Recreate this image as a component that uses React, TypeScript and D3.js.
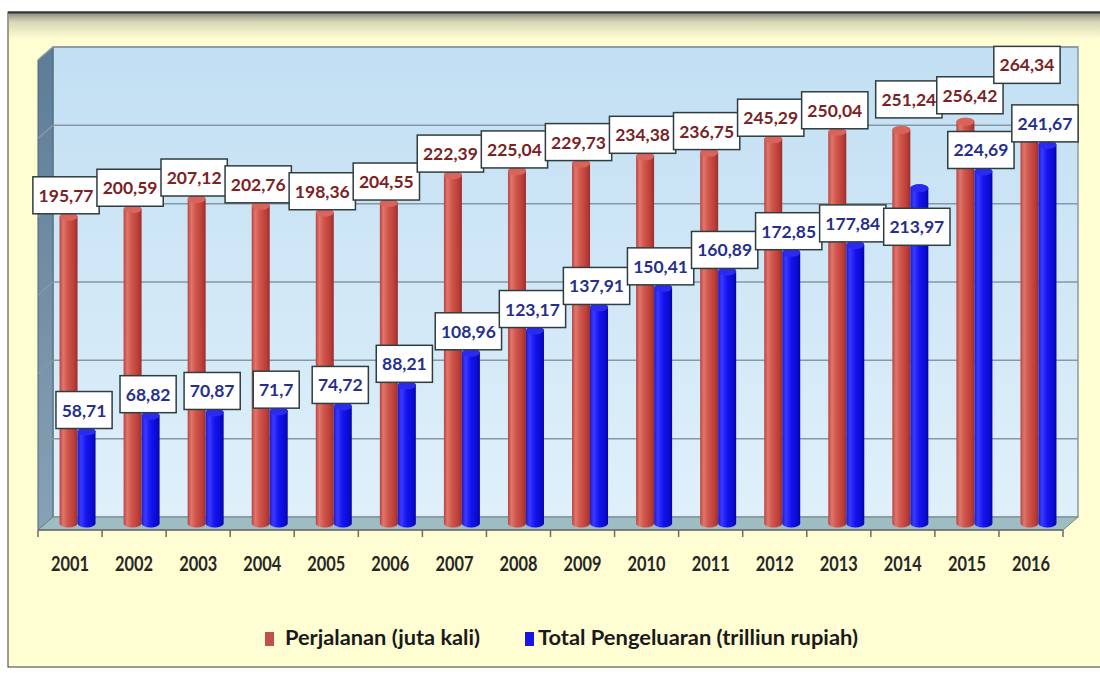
import React, { useEffect, useRef } from 'react';
import * as d3 from 'd3';

const years = ['2001', '2002', '2003', '2004', '2005', '2006', '2007', '2008', '2009', '2010', '2011', '2012', '2013', '2014', '2015', '2016'];
const perjalanan = [195.77, 200.59, 207.12, 202.76, 198.36, 204.55, 222.39, 225.04, 229.73, 234.38, 236.75, 245.29, 250.04, 251.24, 256.42, 264.34];
const pengeluaran = [58.71, 68.82, 70.87, 71.7, 74.72, 88.21, 108.96, 123.17, 137.91, 150.41, 160.89, 172.85, 177.84, 213.97, 224.69, 241.67];
const yTicks = [50, 100, 150, 200, 250, 300];
const seriesNames = ['Perjalanan (juta kali)', 'Total Pengeluaran (trilliun rupiah)'];

// a few labels were pushed around by excel to avoid collisions
const redNudge: Record<string, [number, number]> = { '2014': [10, -9], '2015': [7, -5], '2016': [0, -23] };
const blueNudge: Record<string, [number, number]> = { '2014': [0, 60] };

const W = 1100;
const H = 673;
const FONT = 'Lato, "Open Sans", sans-serif';

const fmt = (v: number) => String(v).replace('.', ',');

const App: React.FC = () => {
  const ref = useRef<SVGSVGElement>(null);

  useEffect(() => {
    if (!ref.current) return;
    const svg = d3.select(ref.current);
    svg.selectAll('*').remove();

    const front = { left: 38, right: 1063, bottom: 530 };
    const dx = 15, dy = 13;
    const wallTop = 47;

    const x = d3.scaleBand<string>().domain(years).range([front.left, front.right]);
    const y = d3.scaleLinear().domain([0, 300]).range([front.bottom - dy, wallTop]);

    const defs = svg.append('defs');
    const lin = (id: string, stops: [number, string][], vertical = false) => {
      const g = defs.append('linearGradient').attr('id', id)
        .attr('x1', 0).attr('y1', 0).attr('x2', vertical ? 0 : 1).attr('y2', vertical ? 1 : 0);
      stops.forEach(([o, c]) => g.append('stop').attr('offset', o).attr('stop-color', c));
    };
    lin('topShade', [[0, '#8e8e84'], [0.35, '#d8d8b8'], [1, '#fffdd2']], true);
    lin('wall', [[0, '#c2dff3'], [1, '#dff0fa']], true);
    lin('sideWall', [[0, '#5d7c96'], [1, '#87a2b6']], true);
    lin('redBar', [[0, '#b8443e'], [0.2, '#e0766c'], [0.45, '#d0554c'], [0.8, '#bb3f38'], [1, '#96302b']]);
    lin('blueBar', [[0, '#1a1ad0'], [0.2, '#3a3aff'], [0.5, '#1414ee'], [0.85, '#0a0ad0'], [1, '#0606a0']]);

    // page + frame
    svg.append('rect').attr('width', W).attr('height', H).attr('fill', '#ffffff');
    svg.append('rect').attr('x', 8).attr('y', 12).attr('width', W).attr('height', 655)
      .attr('fill', '#fffdd2').attr('stroke', '#3a3a3a').attr('stroke-width', 1);
    svg.append('rect').attr('x', 9).attr('y', 13).attr('width', W).attr('height', 26).attr('fill', 'url(#topShade)');
    svg.append('line').attr('x1', 8).attr('x2', W).attr('y1', 12.5).attr('y2', 12.5)
      .attr('stroke', '#333').attr('stroke-width', 2);

    const backL = front.left + dx, backR = front.right + dx, backB = y(0);

    // back wall
    svg.append('rect').attr('x', backL).attr('y', wallTop).attr('width', backR - backL).attr('height', backB - wallTop)
      .attr('fill', 'url(#wall)').attr('stroke', '#8a9aa6').attr('stroke-width', 1.5);
    // side wall
    svg.append('path')
      .attr('d', `M${front.left},${wallTop + dy} L${backL},${wallTop} L${backL},${backB} L${front.left},${front.bottom} Z`)
      .attr('fill', 'url(#sideWall)').attr('stroke', '#4f6577').attr('stroke-width', 1);
    // floor
    svg.append('path')
      .attr('d', `M${backL},${backB} L${backR},${backB} L${front.right},${front.bottom} L${front.left},${front.bottom} Z`)
      .attr('fill', '#9fbcc2').attr('stroke', '#6f8790').attr('stroke-width', 1);

    // gridlines
    const grid = svg.append('g').attr('stroke', '#8797a3').attr('stroke-width', 1.5).attr('fill', 'none');
    yTicks.forEach(t => {
      grid.append('line').attr('x1', backL).attr('x2', backR).attr('y1', y(t)).attr('y2', y(t));
      grid.append('line').attr('x1', front.left).attr('x2', backL).attr('y1', y(t) + dy).attr('y2', y(t));
    });

    // x axis ticks + labels
    const ax = svg.append('g');
    ax.append('line').attr('x1', front.left).attr('x2', front.right).attr('y1', front.bottom).attr('y2', front.bottom)
      .attr('stroke', '#6b6b6b').attr('stroke-width', 1.5);
    [...years.map(d => x(d)!), front.right].forEach(px => {
      ax.append('line').attr('x1', px).attr('x2', px).attr('y1', front.bottom).attr('y2', front.bottom + 7)
        .attr('stroke', '#6b6b6b').attr('stroke-width', 1.5);
    });
    years.forEach(d => {
      ax.append('text').attr('x', x(d)! + x.bandwidth() / 2).attr('y', 571)
        .attr('text-anchor', 'middle').attr('font-family', FONT).attr('font-weight', 700)
        .attr('font-size', 21).attr('fill', '#262626')
        .attr('textLength', 38).attr('lengthAdjust', 'spacingAndGlyphs')
        .text(d);
    });

    // cylinders
    const bw = 18, ry = 4;
    const barBase = y(0) + dy / 2;
    const mid = (d: string) => x(d)! + x.bandwidth() / 2 + dx / 2;
    const cyl = (cx: number, top: number, bot: number) => {
      const l = cx - bw / 2, r = cx + bw / 2;
      return `M${l},${top} L${l},${bot} A${bw / 2},${ry} 0 0 0 ${r},${bot} L${r},${top} A${bw / 2},${ry} 0 0 0 ${l},${top} Z`;
    };
    const bars = svg.append('g');
    years.forEach((d, i) => {
      const cr = mid(d) - bw / 2, cb = mid(d) + bw / 2;
      const tr = y(perjalanan[i]) + dy / 2, tb = y(pengeluaran[i]) + dy / 2;
      bars.append('path').attr('d', cyl(cr, tr, barBase)).attr('fill', 'url(#redBar)');
      bars.append('ellipse').attr('cx', cr).attr('cy', tr).attr('rx', bw / 2).attr('ry', ry).attr('fill', '#d9645b');
      bars.append('path').attr('d', cyl(cb, tb, barBase)).attr('fill', 'url(#blueBar)');
      bars.append('ellipse').attr('cx', cb).attr('cy', tb).attr('rx', bw / 2).attr('ry', ry).attr('fill', '#2a2af0');
    });

    // data labels
    const fs = 17.5;
    const textW = (s: string) => s.split('').reduce((w, c) => w + (c === ',' ? 0.26 : 0.58) * fs, 0);
    const labels = svg.append('g');
    const addLabel = (cx: number, bottom: number, txt: string, color: string) => {
      const g = labels.append('g');
      const boxH = 37;
      const bwid = textW(txt) + 11;
      g.append('rect').attr('x', cx - bwid / 2).attr('y', bottom - boxH).attr('width', bwid).attr('height', boxH)
        .attr('fill', '#ffffff').attr('stroke', '#2f3d40').attr('stroke-width', 1.5);
      g.append('text').attr('x', cx).attr('y', bottom - boxH / 2 + 6.5)
        .attr('text-anchor', 'middle').attr('font-family', FONT).attr('font-weight', 700)
        .attr('font-size', fs).attr('fill', color).text(txt);
    };
    years.forEach((d, i) => {
      const n = redNudge[d] || [0, 0];
      addLabel(mid(d) - bw / 2 - 2.5 + n[0], y(perjalanan[i]) + dy / 2 - 3 + n[1], fmt(perjalanan[i]), '#7a2224');
    });
    years.forEach((d, i) => {
      const n = blueNudge[d] || [0, 0];
      addLabel(mid(d) + bw / 2 - 2.5 + n[0], y(pengeluaran[i]) + dy / 2 - 3 + n[1], fmt(pengeluaran[i]), '#26308c');
    });

    // legend
    const leg = svg.append('g').attr('font-family', FONT).attr('font-weight', 700).attr('font-size', 21).attr('fill', '#1a1a1a');
    const legItems = [
      { sx: 265, tx: 285, len: 195, color: '#c0504d' },
      { sx: 525, tx: 538, len: 320, color: '#1515e6' },
    ];
    legItems.forEach((it, i) => {
      leg.append('rect').attr('x', it.sx).attr('y', 632).attr('width', 9).attr('height', 14).attr('fill', it.color);
      leg.append('text').attr('x', it.tx).attr('y', 645)
        .attr('textLength', it.len).attr('lengthAdjust', 'spacingAndGlyphs').text(seriesNames[i]);
    });
  }, []);

  return <svg ref={ref} width={W} height={H} style={{ position: 'absolute', left: 0, top: 0 }} />;
};

export default App;
